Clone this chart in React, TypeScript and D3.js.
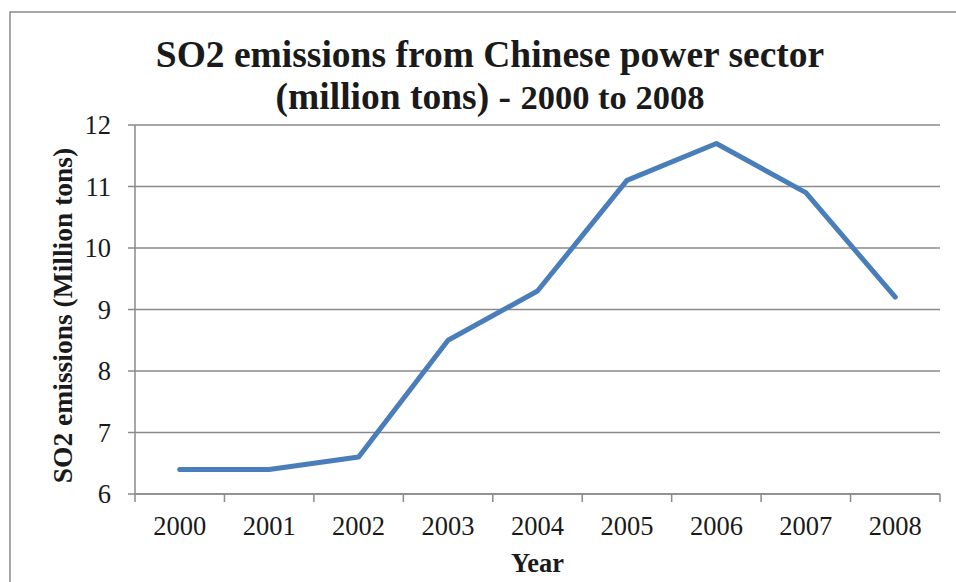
import { useEffect } from "react";
import * as d3 from "d3";

// data
const years = ["2000", "2001", "2002", "2003", "2004", "2005", "2006", "2007", "2008"];
const so2 = [6.4, 6.4, 6.6, 8.5, 9.3, 11.1, 11.7, 10.9, 9.2];
const yTicks = [6, 7, 8, 9, 10, 11, 12];

const W = 956;
const H = 582;
const margin = { top: 125, right: 16, bottom: 88, left: 135 };
const grey = "#8a8a8a";
const ink = "#1a1a1a";
const serif = "'Liberation Serif', 'Times New Roman', serif";

export default function App() {
  useEffect(() => {
    document.body.style.margin = "0";
  }, []);

  const x = d3
    .scaleBand<string>()
    .domain(years)
    .range([margin.left, W - margin.right]);
  const y = d3
    .scaleLinear()
    .domain([6, 12])
    .range([H - margin.bottom, margin.top]);

  const line = d3
    .line<number>()
    .x((_, i) => x(years[i])! + x.bandwidth() / 2)
    .y((d) => y(d));

  const x0 = margin.left;
  const x1 = W - margin.right;
  const y0 = y(6);

  const xTickPos = [...years.map((d) => x(d)!), x1];

  return (
    <svg width={W} height={H} style={{ display: "block", fontFamily: serif }}>
      <rect x={0} y={0} width={W} height={H} fill="#fff" />
      {/* chart frame */}
      <rect x={10} y={12} width={W + 20} height={H + 20} fill="none" stroke={grey} strokeWidth={1.5} />

      {/* title */}
      <text x={490} y={67} textAnchor="middle" fontSize={37.5} fontWeight="bold" fill={ink}>
        SO2 emissions from Chinese power sector
      </text>
      <text x={490} y={109} textAnchor="middle" fontWeight="bold" fill={ink}>
        <tspan fontSize={37.5}>(million tons) - </tspan>
        <tspan fontSize={34.5}>2000 to 2008</tspan>
      </text>

      {/* gridlines + y ticks */}
      {yTicks.map((t) => (
        <g key={t}>
          <line x1={x0 - 7} x2={x1} y1={y(t)} y2={y(t)} stroke={grey} strokeWidth={1.5} />
          <text x={111} y={y(t)} dy="0.35em" textAnchor="end" fontSize={26.5} fill={ink}>
            {t}
          </text>
        </g>
      ))}

      {/* axes */}
      <line x1={x0} x2={x0} y1={margin.top} y2={y0} stroke={grey} strokeWidth={1.5} />
      <line x1={x0} x2={x1} y1={y0} y2={y0} stroke={grey} strokeWidth={1.5} />
      {xTickPos.map((p, i) => (
        <line key={i} x1={p} x2={p} y1={y0} y2={y0 + 8} stroke={grey} strokeWidth={1.5} />
      ))}
      {years.map((d) => (
        <text
          key={d}
          x={x(d)! + x.bandwidth() / 2}
          y={535}
          textAnchor="middle"
          fontSize={26.5}
          fill={ink}
        >
          {d}
        </text>
      ))}

      {/* axis titles */}
      <text x={(x0 + x1) / 2} y={572} textAnchor="middle" fontSize={26.5} fontWeight="bold" fill={ink}>
        Year
      </text>
      <text
        transform={`translate(72, ${(margin.top + y0) / 2 + 6}) rotate(-90)`}
        textAnchor="middle"
        fontSize={27.5}
        fontWeight="bold"
        fill={ink}
      >
        SO2 emissions (Million tons)
      </text>

      {/* series */}
      <path
        d={line(so2) ?? ""}
        fill="none"
        stroke="#4a7ebb"
        strokeWidth={5}
        strokeLinecap="round"
        strokeLinejoin="round"
      />
    </svg>
  );
}
